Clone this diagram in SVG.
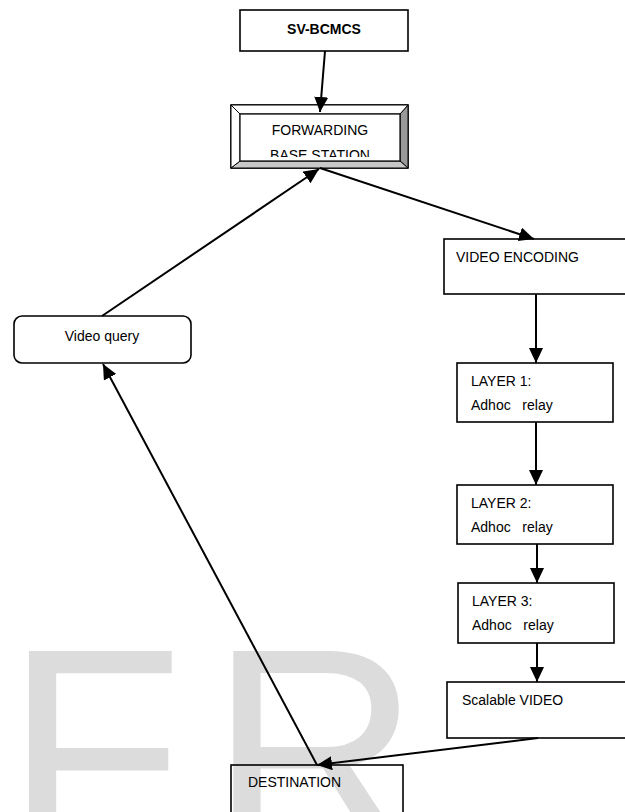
<svg xmlns="http://www.w3.org/2000/svg" width="625" height="812" viewBox="0 0 625 812">
<style>
  .t { font-family: "Liberation Sans", Arial, sans-serif; font-size: 14px; fill: #000; white-space: pre; }
  .b { font-weight: bold; }
  .box { fill: #fff; stroke: #000; stroke-width: 1.6; }
  .edge { stroke: #000; stroke-width: 2; fill: none; marker-end: url(#ah); }
  .wm { font-family: "Liberation Sans", Arial, sans-serif; font-size: 292px; fill: #dcdcdc; }
</style>
<defs>
  <marker id="ah" markerUnits="userSpaceOnUse" markerWidth="16" markerHeight="16" refX="15" refY="7" orient="auto">
    <path d="M0,0 L15,7 L0,14 Z" fill="#000"/>
  </marker>
  <clipPath id="fwclip"><rect x="240" y="114" width="160" height="43"/></clipPath>
</defs>
<rect width="625" height="812" fill="#fff"/>
<text class="wm" x="5" y="852" letter-spacing="26">FR</text>

<g id="sv-bcmcs">
  <rect class="box" x="240" y="10" width="168" height="41"/>
  <text class="t b" x="324" y="34" text-anchor="middle">SV-BCMCS</text>
</g>

<g id="forwarding">
  <rect x="231" y="105" width="177" height="63" fill="#fff" stroke="#000" stroke-width="1.6"/>
  <polygon points="400,114 408,105 408,168 400,161" fill="#999" stroke="#000" stroke-width="1"/>
  <polygon points="240,161 400,161 408,168 231,168" fill="#c8c8c8" stroke="#000" stroke-width="1"/>
  <polygon points="231,105 408,105 400,114 240,114" fill="#fff" stroke="#000" stroke-width="1"/>
  <polygon points="231,105 240,114 240,161 231,168" fill="#fff" stroke="#000" stroke-width="1"/>
  <rect x="240" y="114" width="160" height="47" fill="#fff" stroke="#000" stroke-width="1.2"/>
  <g clip-path="url(#fwclip)">
    <text class="t" x="320" y="135" text-anchor="middle">FORWARDING</text>
    <text class="t" x="320" y="160" text-anchor="middle">BASE STATION</text>
  </g>
</g>

<g id="video-encoding">
  <rect class="box" x="444" y="239" width="182" height="55"/>
  <text class="t" x="456" y="262">VIDEO ENCODING</text>
</g>

<g id="video-query">
  <rect class="box" x="14" y="316" width="177" height="47" rx="8" ry="8"/>
  <text class="t" x="102" y="341" text-anchor="middle">Video query</text>
</g>

<g id="layer1">
  <rect class="box" x="457" y="363" width="156" height="59"/>
  <text class="t" x="471" y="386">LAYER 1:</text>
  <text class="t" x="471" y="410">Adhoc   relay</text>
</g>

<g id="layer2">
  <rect class="box" x="457" y="485" width="156" height="59"/>
  <text class="t" x="471" y="508">LAYER 2:</text>
  <text class="t" x="471" y="532">Adhoc   relay</text>
</g>

<g id="layer3">
  <rect class="box" x="458" y="583" width="156" height="60"/>
  <text class="t" x="472" y="606">LAYER 3:</text>
  <text class="t" x="472" y="630">Adhoc   relay</text>
</g>

<g id="scalable-video">
  <rect class="box" x="447" y="682" width="182" height="56"/>
  <text class="t" x="462" y="705">Scalable VIDEO</text>
</g>

<g id="destination">
  <rect x="231" y="765" width="172" height="60" fill="none" stroke="#000" stroke-width="1.6"/>
  <text class="t" x="248" y="787">DESTINATION</text>
</g>

<g id="connectors">
  <line class="edge" x1="325" y1="51" x2="320" y2="112"/>
  <line class="edge" x1="320" y1="168" x2="534" y2="239"/>
  <line class="edge" x1="536" y1="294" x2="536" y2="363"/>
  <line class="edge" x1="536" y1="422" x2="536" y2="485"/>
  <line class="edge" x1="537" y1="544" x2="537" y2="583"/>
  <line class="edge" x1="537" y1="643" x2="537" y2="682"/>
  <line class="edge" x1="538" y1="738" x2="317" y2="765"/>
  <line class="edge" x1="317" y1="765" x2="103" y2="364"/>
  <line class="edge" x1="102" y1="316" x2="319" y2="169"/>
</g>
</svg>
